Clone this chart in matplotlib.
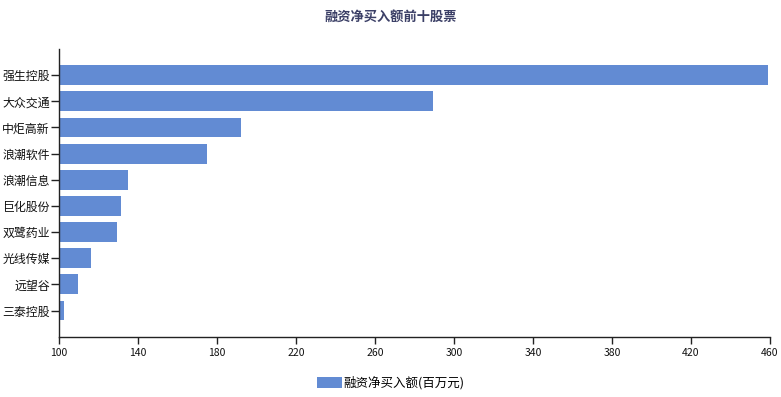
import matplotlib
matplotlib.use("Agg")
import matplotlib.pyplot as plt
from matplotlib.patches import Patch

plt.rcParams['font.family'] = ['Noto Sans CJK SC', 'DejaVu Sans']

categories = ['强生控股', '大众交通', '中炬高新', '浪潮软件', '浪潮信息',
              '巨化股份', '双鹭药业', '光线传媒', '远望谷', '三泰控股']
values = [458.8, 289.3, 192.1, 174.9, 134.9, 131.4, 129.5, 116.2, 109.6, 102.5]
xticks = [100, 140, 180, 220, 260, 300, 340, 380, 420, 460]
title = '融资净买入额前十股票'
series_name = '融资净买入额(百万元)'
color = '#628bd3'

fig = plt.figure(figsize=(7.81, 3.97), dpi=100)
ax = fig.add_axes([58.7/781, (397-336.7)/397, (770-58.7)/781, (336.7-49)/397])

ypos = list(range(len(categories)))
ax.barh(ypos, values, height=0.76, color=color, left=0)
ax.set_xlim(100, 460)
ax.set_ylim(10, -1)
ax.set_yticks(ypos)
ax.set_yticklabels(categories, fontsize=8.6, color='#111111')
ax.set_xticks(xticks)
ax.set_xticklabels([str(t) for t in xticks], fontsize=7.5, color='#111111')
ax.tick_params(axis='y', length=6, width=1, pad=0.5, color='#222222')
ax.tick_params(axis='x', length=5, width=1, pad=3, color='#222222')
for s in ['top', 'right']:
    ax.spines[s].set_visible(False)
for s in ['left', 'bottom']:
    ax.spines[s].set_color('#222222')
    ax.spines[s].set_linewidth(1)

fig.text(0.5, 1 - 17/397, title, ha='center', va='center', fontsize=9.5,
         fontweight='bold', color='#3b3f66')

handles = [Patch(facecolor=color, edgecolor='none', label=series_name)]
fig.legend(handles=handles, loc='center', bbox_to_anchor=(0.5, 1 - 383/397),
           frameon=False, fontsize=9, handlelength=2.0, handleheight=1.0,
           handletextpad=0.1)

fig.savefig('out.png', dpi=100)
